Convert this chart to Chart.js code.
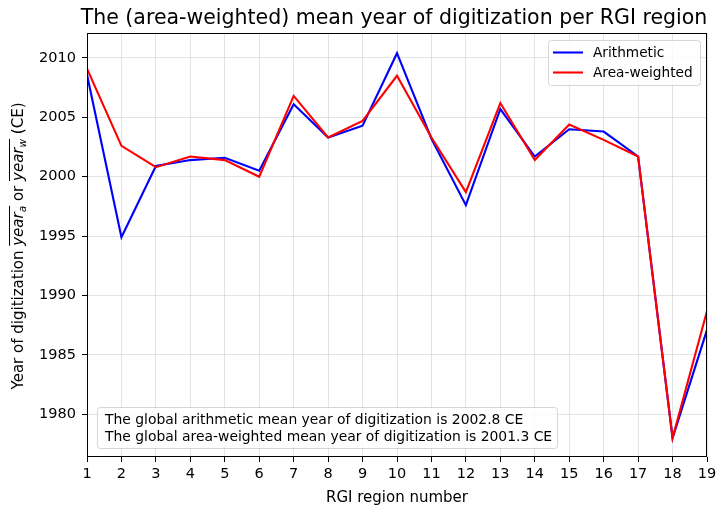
<!DOCTYPE html>
<html>
<head>
<meta charset="utf-8">
<script src="https://cdn.jsdelivr.net/npm/chart.js@4/dist/chart.umd.min.js"></script>
<style>
  html, body { margin: 0; padding: 0; background: #fff; }
  #wrap { width: 725px; height: 516px; position: relative; }
</style>
</head>
<body>
<div id="wrap"><canvas id="c" width="725" height="516"></canvas></div>
<script>
const regions = [1,2,3,4,5,6,7,8,9,10,11,12,13,14,15,16,17,18,19];
const arithmetic = [2008.6, 1994.9, 2000.9, 2001.4, 2001.6, 2000.5, 2006.1, 2003.3, 2004.3, 2010.4, 2003.2, 1997.6, 2005.7, 2001.7, 2004.0, 2003.8, 2001.7, 1978.0, 1987.1];
const areaWeighted = [2009.1, 2002.6, 2000.8, 2001.7, 2001.4, 2000.0, 2006.8, 2003.3, 2004.7, 2008.5, 2003.3, 1998.7, 2006.2, 2001.4, 2004.4, 2003.1, 2001.7, 1978.0, 1988.7];
const yTicks = [1980, 1985, 1990, 1995, 2000, 2005, 2010];
const seriesNames = ['Arithmetic', 'Area-weighted'];
const titleText = 'The (area-weighted) mean year of digitization per RGI region';
const xTitle = 'RGI region number';
const noteLines = [
  'The global arithmetic mean year of digitization is 2002.8 CE',
  'The global area-weighted mean year of digitization is 2001.3 CE'
];

const FONT = 'DejaVu Sans';
const gridColor = 'rgba(176,190,190,0.4)';

const decor = {
  id: 'decor',
  afterDraw(chart) {
    const ctx = chart.ctx;
    const a = chart.chartArea;
    ctx.save();
    // frame
    ctx.strokeStyle = '#000';
    ctx.lineWidth = 1;
    ctx.strokeRect(Math.round(a.left) + 0.5, Math.round(a.top) + 0.5, Math.round(a.right - a.left) - 1, Math.round(a.bottom - a.top) - 1);

    // title
    ctx.fillStyle = '#000';
    ctx.font = `20.5px "${FONT}"`;
    ctx.textAlign = 'center';
    ctx.textBaseline = 'middle';
    ctx.fillText(titleText, (a.left + a.right) / 2 - 3, 19);

    // x title
    ctx.font = `15px "${FONT}"`;
    ctx.fillText(xTitle, (a.left + a.right) / 2, 498);

    // y title with overlines
    ctx.save();
    ctx.translate(18, (a.top + a.bottom) / 2 + 1);
    ctx.rotate(-Math.PI / 2);
    const normal = `15px "${FONT}"`;
    const ital = `italic 15px "${FONT}"`;
    const sub = `italic 10.5px "${FONT}"`;
    const parts = [
      { t: 'Year of digitization ', f: normal },
      { t: 'year', f: ital, over: 'start' },
      { t: 'a', f: sub, sub: true, over: 'end' },
      { t: ' or ', f: normal },
      { t: 'year', f: ital, over: 'start' },
      { t: 'w', f: sub, sub: true, over: 'end' },
      { t: ' (CE)', f: normal }
    ];
    let total = 0;
    parts.forEach(p => { ctx.font = p.f; p.w = ctx.measureText(p.t).width; total += p.w; });
    let x = -total / 2;
    ctx.textAlign = 'left';
    ctx.textBaseline = 'alphabetic';
    const base = 5;
    let overStart = 0;
    parts.forEach(p => {
      ctx.font = p.f;
      ctx.fillText(p.t, x, p.sub ? base + 3 : base);
      if (p.over === 'start') overStart = x;
      if (p.over === 'end') {
        ctx.beginPath();
        ctx.lineWidth = 1;
        ctx.moveTo(overStart, base - 13.5);
        ctx.lineTo(x + p.w, base - 13.5);
        ctx.stroke();
      }
      x += p.w;
    });
    ctx.restore();

    function roundBox(x0, y0, w, h, r) {
      ctx.beginPath();
      ctx.moveTo(x0 + r, y0);
      ctx.lineTo(x0 + w - r, y0);
      ctx.quadraticCurveTo(x0 + w, y0, x0 + w, y0 + r);
      ctx.lineTo(x0 + w, y0 + h - r);
      ctx.quadraticCurveTo(x0 + w, y0 + h, x0 + w - r, y0 + h);
      ctx.lineTo(x0 + r, y0 + h);
      ctx.quadraticCurveTo(x0, y0 + h, x0, y0 + h - r);
      ctx.lineTo(x0, y0 + r);
      ctx.quadraticCurveTo(x0, y0, x0 + r, y0);
      ctx.closePath();
      ctx.fillStyle = 'rgba(255,255,255,0.8)';
      ctx.fill();
      ctx.strokeStyle = 'rgba(204,204,204,0.8)';
      ctx.lineWidth = 1;
      ctx.stroke();
    }
    // legend
    roundBox(548.5, 40.5, 152, 45, 3);
    const ds = chart.data.datasets;
    ctx.font = `13.7px "${FONT}"`;
    ctx.textBaseline = 'middle';
    ctx.textAlign = 'left';
    [52.5, 72.5].forEach((yy, i) => {
      ctx.strokeStyle = ds[i].borderColor;
      ctx.lineWidth = 2.1;
      ctx.beginPath();
      ctx.moveTo(553, yy);
      ctx.lineTo(583, yy);
      ctx.stroke();
      ctx.fillStyle = '#000';
      ctx.fillText(ds[i].label, 593, yy + 0.5);
    });

    // note box
    roundBox(97.5, 407.5, 460, 41, 3);
    ctx.fillStyle = '#000';
    ctx.font = `13.9px "${FONT}"`;
    ctx.fillText(noteLines[0], 105, 420.5);
    ctx.fillText(noteLines[1], 105, 437);
    ctx.restore();
  }
};

new Chart(document.getElementById('c'), {
  type: 'line',
  data: {
    labels: regions,
    datasets: [
      { label: seriesNames[0], data: regions.map((r, i) => ({ x: r, y: arithmetic[i] })), borderColor: '#0000ff', borderWidth: 2.1, pointRadius: 0, tension: 0, fill: false, order: 1 },
      { label: seriesNames[1], data: regions.map((r, i) => ({ x: r, y: areaWeighted[i] })), borderColor: '#ff0000', borderWidth: 2.1, pointRadius: 0, tension: 0, fill: false, order: 0 }
    ]
  },
  options: {
    responsive: false,
    animation: false,
    devicePixelRatio: 1,
    layout: { padding: { left: 0, top: 33, right: 18, bottom: 0 } },
    plugins: { legend: { display: false }, tooltip: { enabled: false }, title: { display: false } },
    scales: {
      x: {
        type: 'linear', min: 1, max: 19,
        afterBuildTicks: s => { s.ticks = regions.map(v => ({ value: v })); },
        afterFit: s => { s.height = 59; },
        grid: { color: gridColor, tickColor: '#000', tickLength: 5, drawTicks: true },
        border: { display: false },
        ticks: { color: '#000', font: { family: FONT, size: 14.5 }, padding: 4, maxRotation: 0, autoSkip: false }
      },
      y: {
        type: 'linear', min: 1976.4, max: 2012.1,
        afterBuildTicks: s => { s.ticks = yTicks.map(v => ({ value: v })); },
        afterFit: s => { s.width = 87; },
        grid: { color: gridColor, tickColor: '#000', tickLength: 5, drawTicks: true },
        border: { display: false },
        ticks: { color: '#000', font: { family: FONT, size: 14.5 }, padding: 6, callback: v => String(v) }
      }
    }
  },
  plugins: [decor]
});
</script>
</body>
</html>
